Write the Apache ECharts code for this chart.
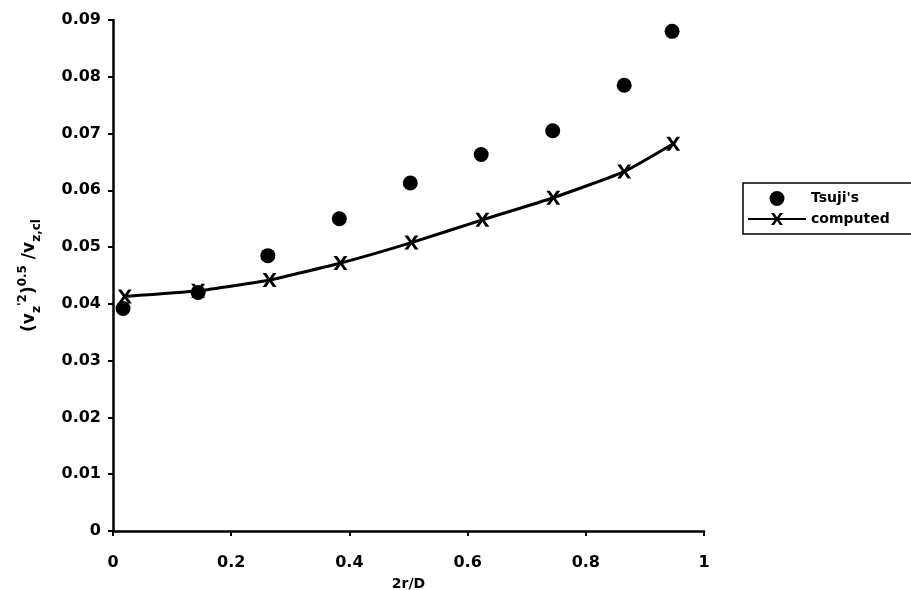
<!DOCTYPE html>
<html>
<head>
<meta charset="utf-8">
<script src="https://cdn.jsdelivr.net/npm/echarts@6/dist/echarts.min.js"></script>
<style>
  html, body { margin: 0; padding: 0; background: #fff; }
  #chart { width: 911px; height: 590px; }
</style>
</head>
<body>
<div id="chart"></div>
<script>
// measured values (2r/D, rms velocity ratio)
const tsujiX = [0.017, 0.144, 0.262, 0.383, 0.503, 0.623, 0.744, 0.865, 0.946];
const tsujiY = [0.0392, 0.0420, 0.0485, 0.0550, 0.0613, 0.0663, 0.0705, 0.0785, 0.0880];
const compX = [0.02, 0.144, 0.265, 0.385, 0.505, 0.625, 0.745, 0.865, 0.948];
const compY = [0.0413, 0.0423, 0.0442, 0.0472, 0.0508, 0.0548, 0.0587, 0.0633, 0.0682];
const seriesNames = ["Tsuji's", 'computed'];

const FONT = 'DejaVu Sans';
// X shaped marker, filled polygon
const crossSymbol = 'path://M0,0 L2.6,0 L5,3.6 L7.4,0 L10,0 L6.4,5 L10,10 L7.4,10 L5,6.4 L2.6,10 L0,10 L3.6,5 Z';

const toPairs = (xs, ys) => xs.map((x, i) => [x, ys[i]]);

const chart = echarts.init(document.getElementById('chart'));

const axisCommon = {
    axisLine: { show: true, onZero: false, lineStyle: { color: '#000', width: 2.5 } },
    axisTick: { show: true, inside: false, length: 5, lineStyle: { color: '#000', width: 2 } },
    splitLine: { show: false },
    axisLabel: { color: '#000', fontFamily: FONT, fontWeight: 'bold', fontSize: 16 }
};

const option = {
    backgroundColor: '#fff',
    animation: false,
    grid: { left: 113, right: 207, top: 20, bottom: 59, containLabel: false, outerBoundsMode: 'none' },
    legend: {
        orient: 'vertical',
        left: 743,
        top: 183,
        padding: [8, 30, 8, 4],
        itemGap: 6,
        itemWidth: 58,
        itemHeight: 15,
        borderColor: '#000',
        borderWidth: 1.5,
        textStyle: { color: '#000', fontFamily: FONT, fontWeight: 'bold', fontSize: 14 },
        data: seriesNames
    },
    xAxis: Object.assign({}, axisCommon, {
        type: 'value',
        min: 0,
        max: 1,
        interval: 0.2,
        axisLabel: Object.assign({}, axisCommon.axisLabel, { margin: 24 }),
        name: '2r/D',
        nameLocation: 'middle',
        nameGap: 46,
        nameTextStyle: { color: '#000', fontFamily: FONT, fontWeight: 'bold', fontSize: 14 }
    }),
    yAxis: Object.assign({}, axisCommon, {
        type: 'value',
        min: 0,
        max: 0.09,
        interval: 0.01,
        axisLabel: Object.assign({}, axisCommon.axisLabel, { margin: 12 }),
        name: "{m|(v}{sub|z}{sup|'2}{m|)}{sup|0.5}{m| /v}{sub|z,cl}",
        nameLocation: 'middle',
        nameGap: 70,
        nameTextStyle: {
            color: '#000',
            fontFamily: FONT,
            fontWeight: 'bold',
            fontSize: 17,
            rich: {
                m: { fontFamily: FONT, fontWeight: 'bold', fontSize: 17, color: '#000', lineHeight: 26, verticalAlign: 'middle' },
                sub: { fontFamily: FONT, fontWeight: 'bold', fontSize: 12, color: '#000', lineHeight: 26, verticalAlign: 'bottom' },
                sup: { fontFamily: FONT, fontWeight: 'bold', fontSize: 12, color: '#000', lineHeight: 26, verticalAlign: 'top' }
            }
        }
    }),
    series: [
        {
            name: seriesNames[0],
            type: 'scatter',
            symbol: 'circle',
            symbolSize: 15,
            itemStyle: { color: '#000', opacity: 1 },
            z: 3,
            data: toPairs(tsujiX, tsujiY)
        },
        {
            name: seriesNames[1],
            type: 'line',
            symbol: crossSymbol,
            symbolSize: 14,
            showAllSymbol: true,
            smooth: 0.15,
            lineStyle: { color: '#000', width: 3 },
            itemStyle: { color: '#000', opacity: 1 },
            z: 4,
            data: toPairs(compX, compY)
        }
    ]
};

chart.setOption(option);
</script>
</body>
</html>
